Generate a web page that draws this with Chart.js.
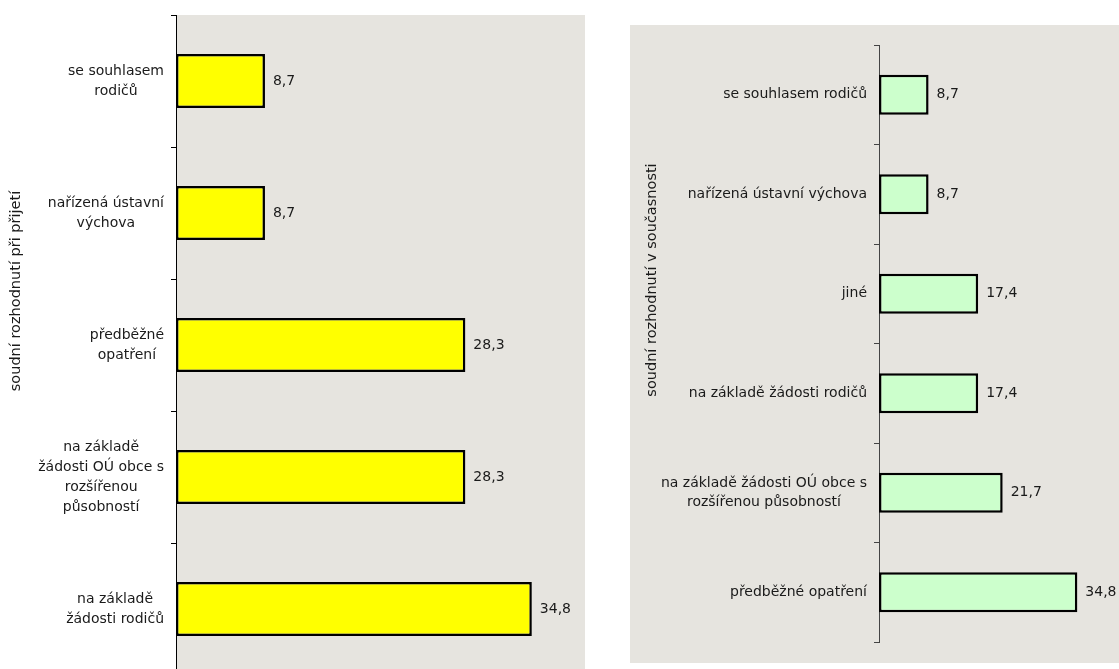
<!DOCTYPE html>
<html>
<head>
<meta charset="utf-8">
<script src="https://cdn.jsdelivr.net/npm/chart.js@4"></script>
<style>
  html, body { margin: 0; padding: 0; background: #fff; overflow: hidden; width: 1119px; height: 669px; }
  #left { position: absolute; left: 0; top: 0; }
  #right { position: absolute; left: 630px; top: 25px; background: #e6e4df; }
</style>
</head>
<body>
<canvas id="left" width="600" height="690"></canvas>
<canvas id="right" width="489" height="638"></canvas>
<script>
// soudní rozhodnutí při přijetí
const prijetiLabels = [
  ['se souhlasem', 'rodičů'],
  ['nařízená ústavní', 'výchova'],
  ['předběžné', 'opatření'],
  ['na základě', 'žádosti OÚ obce s', 'rozšířenou', 'působností'],
  ['na základě', 'žádosti rodičů']
];
const prijetiValues = [8.7, 8.7, 28.3, 28.3, 34.8];

// soudní rozhodnutí v současnosti
const soucasnostLabels = [
  'se souhlasem rodičů',
  'nařízená ústavní výchova',
  'jiné',
  'na základě žádosti rodičů',
  ['na základě žádosti OÚ obce s', 'rozšířenou působností'],
  'předběžné opatření'
];
const soucasnostValues = [8.7, 8.7, 17.4, 17.4, 21.7, 34.8];

const FONT = '"DejaVu Sans", Verdana, sans-serif';
const TEXT = '#1a1a1a';

// beige fill of the plot area only
const plotBg = {
  id: 'plotBg',
  beforeDraw(chart, args, opts) {
    if (!opts.color) return;
    const a = chart.chartArea, ctx = chart.ctx;
    ctx.save();
    ctx.fillStyle = opts.color;
    ctx.fillRect(a.left, a.top, a.right - a.left, a.bottom - a.top);
    ctx.restore();
  }
};

// category names: block right aligned to the axis, lines centred inside the block
const catLabels = {
  id: 'catLabels',
  afterDraw(chart, args, opts) {
    const ctx = chart.ctx, y = chart.scales.y;
    ctx.save();
    ctx.font = opts.size + 'px ' + FONT;
    ctx.fillStyle = TEXT;
    ctx.textAlign = 'center';
    ctx.textBaseline = 'middle';
    chart.data.labels.forEach((lab, i) => {
      const lines = Array.isArray(lab) ? lab : [lab];
      const w = Math.max(...lines.map(l => ctx.measureText(l).width));
      const cx = chart.chartArea.left - opts.gap - w / 2;
      const cy = y.getPixelForValue(i);
      lines.forEach((l, k) => {
        ctx.fillText(l, cx, cy + (k - (lines.length - 1) / 2) * opts.lineHeight);
      });
    });
    ctx.restore();
  }
};

// value at the end of each bar, decimal comma
const valueLabels = {
  id: 'valueLabels',
  afterDatasetsDraw(chart, args, opts) {
    const ctx = chart.ctx;
    const data = chart.data.datasets[0].data;
    ctx.save();
    ctx.font = opts.size + 'px ' + FONT;
    ctx.fillStyle = TEXT;
    ctx.textAlign = 'left';
    ctx.textBaseline = 'middle';
    chart.getDatasetMeta(0).data.forEach((bar, i) => {
      ctx.fillText(data[i].toFixed(1).replace('.', ','), bar.x + opts.gap, bar.y);
    });
    ctx.restore();
  }
};

// rotated axis title
const sideTitle = {
  id: 'sideTitle',
  afterDraw(chart, args, opts) {
    const ctx = chart.ctx;
    ctx.save();
    ctx.translate(opts.x, opts.y);
    ctx.rotate(-Math.PI / 2);
    ctx.font = opts.size + 'px ' + FONT;
    ctx.fillStyle = TEXT;
    ctx.textAlign = 'center';
    ctx.textBaseline = 'middle';
    ctx.fillText(opts.text, 0, 0);
    ctx.restore();
  }
};

function makeChart(id, labels, values, o) {
  return new Chart(document.getElementById(id), {
    type: 'bar',
    data: {
      labels: labels,
      datasets: [{
        data: values,
        backgroundColor: o.fill,
        borderColor: '#000',
        borderWidth: 2.5,
        borderSkipped: false,
        barPercentage: o.bar,
        categoryPercentage: 1
      }]
    },
    options: {
      indexAxis: 'y',
      responsive: false,
      animation: false,
      layout: { padding: o.pad },
      scales: {
        x: { display: false, min: 0, max: 40 },
        y: {
          ticks: { display: false },
          grid: { drawOnChartArea: false, tickLength: 5, color: o.axis },
          border: { color: o.axis },
          afterFit(s) { s.width = o.axisLeft; }
        }
      },
      plugins: {
        legend: { display: false },
        tooltip: { enabled: false },
        plotBg: { color: o.plotBg },
        catLabels: { size: o.size, gap: 12, lineHeight: o.lineHeight },
        valueLabels: { size: o.size, gap: 8 },
        sideTitle: o.title
      }
    },
    plugins: [plotBg, catLabels, valueLabels, sideTitle]
  });
}

makeChart('left', prijetiLabels, prijetiValues, {
  fill: '#ffff00',
  bar: 0.41,
  pad: { left: 0, top: 15, right: 15, bottom: 15 },
  axis: '#000',
  axisLeft: 176,
  plotBg: '#e6e4df',
  size: 14,
  lineHeight: 20,
  title: { text: 'soudní rozhodnutí při přijetí', x: 16, y: 291, size: 14.5 }
});

makeChart('right', soucasnostLabels, soucasnostValues, {
  fill: '#ccffcc',
  bar: 0.40,
  pad: { left: 0, top: 20, right: 12, bottom: 21 },
  axis: '#444',
  axisLeft: 249,
  plotBg: null,
  size: 14,
  lineHeight: 19,
  title: { text: 'soudní rozhodnutí v současnosti', x: 22, y: 255, size: 14.5 }
});
</script>
</body>
</html>
